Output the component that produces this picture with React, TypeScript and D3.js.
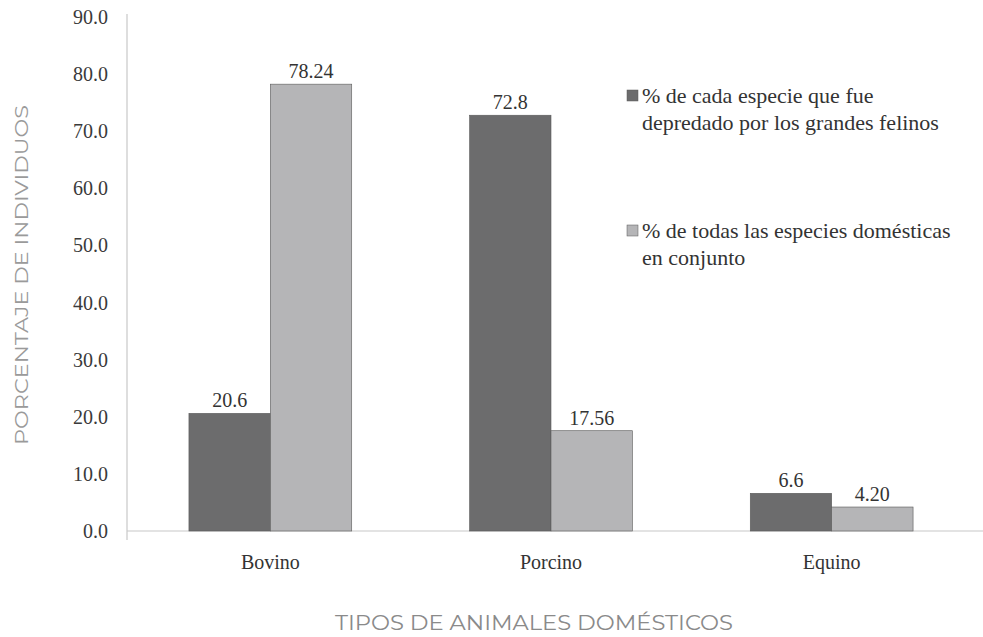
import React from 'react';
import * as d3 from 'd3';

const categories = ['Bovino', 'Porcino', 'Equino'];
const seriesKeys = ['depredado', 'conjunto'];
const depredado = [20.6, 72.8, 6.6];
const conjunto = [78.24, 17.56, 4.2];
const valueLabels = [['20.6', '78.24'], ['72.8', '17.56'], ['6.6', '4.20']];
const yTicks = [0, 10, 20, 30, 40, 50, 60, 70, 80, 90];
const legendLines = [
  ['%  de cada especie que fue', 'depredado por los grandes felinos'],
  ['% de todas las especies domésticas', 'en conjunto'],
];

const W = 983;
const H = 637;
const serif = 'Liberation Serif';
const sans = 'Montserrat';

export default function App() {
  const colors = d3.scaleOrdinal<string>().domain(seriesKeys).range(['#6c6c6d', '#b5b5b7']);
  const x0 = d3.scaleBand().domain(categories).range([130, 972]).paddingInner(0.42).paddingOuter(0.21);
  const x1 = d3.scaleBand().domain(seriesKeys).range([0, x0.bandwidth()]);
  const y = d3.scaleLinear().domain([0, 90]).range([531, 17]);

  const rows = categories.map((c, i) => ({
    c,
    vals: [depredado[i], conjunto[i]].map((v, k) => ({ v, k: seriesKeys[k], t: valueLabels[i][k] })),
  }));

  return (
    <svg width={W} height={H} style={{ display: 'block', position: 'absolute', left: 0, top: 0, background: '#fff' }}>
      {/* axes lines */}
      <line x1={127} x2={127} y1={14} y2={540} stroke="#c8c8c8" strokeWidth={1.2} />
      <line x1={127} x2={983} y1={y(0)} y2={y(0)} stroke="#c8c8c8" strokeWidth={1.2} />

      {yTicks.map(d => (
        <text key={d} x={108} y={y(d)} dy="0.35em" textAnchor="end" fontFamily={serif} fontSize={20} fill="#3a3a3a">
          {d.toFixed(1)}
        </text>
      ))}

      {rows.map(r => (
        <g key={r.c} transform={`translate(${x0(r.c)},0)`}>
          {r.vals.map(d => (
            <rect key={d.k} x={x1(d.k)} y={y(d.v)} width={x1.bandwidth()} height={y(0) - y(d.v)}
              fill={colors(d.k)} stroke="#5a5a5a" strokeWidth={0.6} />
          ))}
          {r.vals.map(d => (
            <text key={d.k + 't'} x={x1(d.k)! + x1.bandwidth() / 2} y={y(d.v) - 6} textAnchor="middle"
              fontFamily={serif} fontSize={20} fill="#333">{d.t}</text>
          ))}
          <text x={x0.bandwidth() / 2} y={569} textAnchor="middle" fontFamily={serif} fontSize={20} fill="#333">{r.c}</text>
        </g>
      ))}

      {/* legend */}
      {seriesKeys.map((k, i) => (
        <g key={k} transform={`translate(627,${90 + i * 135})`}>
          <rect width={11} height={11} fill={colors(k)} stroke="#5a5a5a" strokeWidth={0.5} />
          <text fontFamily={serif} fontSize={22} fill="#333">
            {legendLines[i].map((line, j) => (
              <tspan key={j} x={15} y={13 + j * 27}>{line}</tspan>
            ))}
          </text>
        </g>
      ))}

      {/* axis titles */}
      <text transform="translate(28,275) rotate(-90)" textAnchor="middle" fontFamily={sans} fontSize={18}
        textLength={340} lengthAdjust="spacingAndGlyphs" fill="#9a9a9a">
        PORCENTAJE DE INDIVIDUOS
      </text>
      <text x={534} y={630} textAnchor="middle" fontFamily={sans} fontSize={20}
        textLength={398} lengthAdjust="spacingAndGlyphs" fill="#8a8a8a">
        TIPOS DE ANIMALES DOMÉSTICOS
      </text>
    </svg>
  );
}
